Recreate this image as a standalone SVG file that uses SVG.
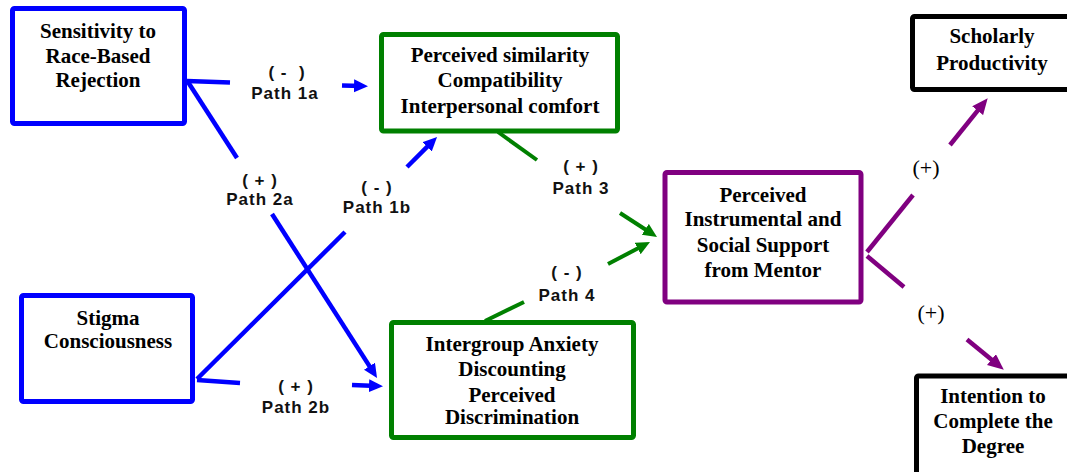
<svg xmlns="http://www.w3.org/2000/svg" width="1067" height="472" viewBox="0 0 1067 472">
<style>
.box{fill:#fff;stroke-width:5;stroke-linejoin:round}
.blue{stroke:#0000FF}.green{stroke:#008000}.purple{stroke:#800080}.black{stroke:#000}
.nt{font-family:"Liberation Serif","Times New Roman",serif;font-weight:bold;font-size:21px;fill:#000;text-anchor:middle}
.lb{font-family:"Liberation Sans",Arial,sans-serif;font-weight:bold;font-size:17px;letter-spacing:1px;fill:#111;text-anchor:middle;white-space:pre}
.pl{font-family:"Liberation Serif","Times New Roman",serif;font-size:22px;fill:#000;text-anchor:middle}
.c{fill:none}
.cb{stroke:#0000FF;stroke-width:4.5}
.cg{stroke:#008000;stroke-width:4}
.cp{stroke:#800080;stroke-width:4.5}
</style>
<defs>
<marker id="ab" markerUnits="userSpaceOnUse" markerWidth="16" markerHeight="14" refX="8" refY="6.5" orient="auto"><path d="M0,0 L14,6.5 L0,13 z" fill="#0000FF"/></marker>
<marker id="ag" markerUnits="userSpaceOnUse" markerWidth="16" markerHeight="14" refX="8" refY="6.5" orient="auto"><path d="M0,0 L14,6.5 L0,13 z" fill="#008000"/></marker>
<marker id="ap" markerUnits="userSpaceOnUse" markerWidth="18" markerHeight="15" refX="9" refY="7" orient="auto"><path d="M0,0 L16,7 L0,14 z" fill="#800080"/></marker>
</defs>
<g id="connectors" class="c">
<line class="cb" x1="187" y1="81" x2="230" y2="82.5"/>
<line class="cb" x1="342" y1="85.5" x2="362" y2="86" marker-end="url(#ab)"/>
<line class="cb" x1="188" y1="82" x2="237" y2="158"/>
<line class="cb" x1="272" y1="214" x2="373.8" y2="372.9" marker-end="url(#ab)"/>
<line class="cb" x1="197" y1="379" x2="345" y2="232"/>
<line class="cb" x1="407" y1="167" x2="432.8" y2="141.2" marker-end="url(#ab)"/>
<line class="cb" x1="197" y1="380" x2="240" y2="383"/>
<line class="cb" x1="352" y1="385" x2="377" y2="386" marker-end="url(#ab)"/>
<line class="cg" x1="498" y1="132" x2="537" y2="160"/>
<line class="cg" x1="620" y1="213" x2="652" y2="233.7" marker-end="url(#ag)"/>
<line class="cg" x1="485" y1="321" x2="524" y2="302"/>
<line class="cg" x1="608" y1="264" x2="644.7" y2="244.8" marker-end="url(#ag)"/>
<line class="cp" x1="867" y1="252" x2="913" y2="195"/>
<line class="cp" x1="950" y1="145" x2="983.3" y2="103.7" marker-end="url(#ap)"/>
<line class="cp" x1="867" y1="256" x2="904" y2="287"/>
<line class="cp" x1="967" y1="339.5" x2="998.4" y2="365.2" marker-end="url(#ap)"/>
<text class="lb" x="287" y="78" xml:space="preserve">( -  )</text>
<text class="lb" x="285" y="99">Path 1a</text>
<text class="lb" x="260" y="186">( + )</text>
<text class="lb" x="260" y="205">Path 2a</text>
<text class="lb" x="377" y="193">( - )</text>
<text class="lb" x="377" y="213">Path 1b</text>
<text class="lb" x="296" y="392">( + )</text>
<text class="lb" x="296" y="413">Path 2b</text>
<text class="lb" x="581" y="172">( + )</text>
<text class="lb" x="581" y="194">Path 3</text>
<text class="lb" x="567" y="278">( - )</text>
<text class="lb" x="567" y="301">Path 4</text>
<text class="pl" x="926" y="175">(+)</text>
<text class="pl" x="931" y="320">(+)</text>
</g>
<g id="sensitivity">
<rect class="box blue" x="12.5" y="8.5" width="172" height="115" rx="2"/>
<text class="nt" x="98" y="38">Sensitivity to</text>
<text class="nt" x="98" y="63">Race-Based</text>
<text class="nt" x="98" y="87">Rejection</text>
</g>
<g id="stigma">
<rect class="box blue" x="21.5" y="295.5" width="171" height="106" rx="2"/>
<text class="nt" x="108" y="325">Stigma</text>
<text class="nt" x="108" y="348">Consciousness</text>
</g>
<g id="similarity">
<rect class="box green" x="381.5" y="34.5" width="236" height="96.5" rx="2"/>
<text class="nt" x="500" y="62">Perceived similarity</text>
<text class="nt" x="500" y="87">Compatibility</text>
<text class="nt" x="500" y="113">Interpersonal comfort</text>
</g>
<g id="anxiety">
<rect class="box green" x="391.5" y="322.5" width="242" height="115" rx="2"/>
<text class="nt" x="512" y="351">Intergroup Anxiety</text>
<text class="nt" x="512" y="376">Discounting</text>
<text class="nt" x="512" y="402">Perceived</text>
<text class="nt" x="512" y="424">Discrimination</text>
</g>
<g id="support">
<rect class="box purple" x="665" y="172.5" width="196" height="129.5" rx="2"/>
<text class="nt" x="763" y="202">Perceived</text>
<text class="nt" x="763" y="226">Instrumental and</text>
<text class="nt" x="763" y="252">Social Support</text>
<text class="nt" x="763" y="277">from Mentor</text>
</g>
<g id="productivity">
<rect class="box black" x="912.5" y="16.5" width="170" height="73" rx="2"/>
<text class="nt" x="992" y="43">Scholarly</text>
<text class="nt" x="992" y="70">Productivity</text>
</g>
<g id="intention">
<rect class="box black" x="916.5" y="376" width="170" height="120" rx="2"/>
<text class="nt" x="993" y="403">Intention to</text>
<text class="nt" x="993" y="428">Complete the</text>
<text class="nt" x="993" y="453">Degree</text>
</g>
</svg>
